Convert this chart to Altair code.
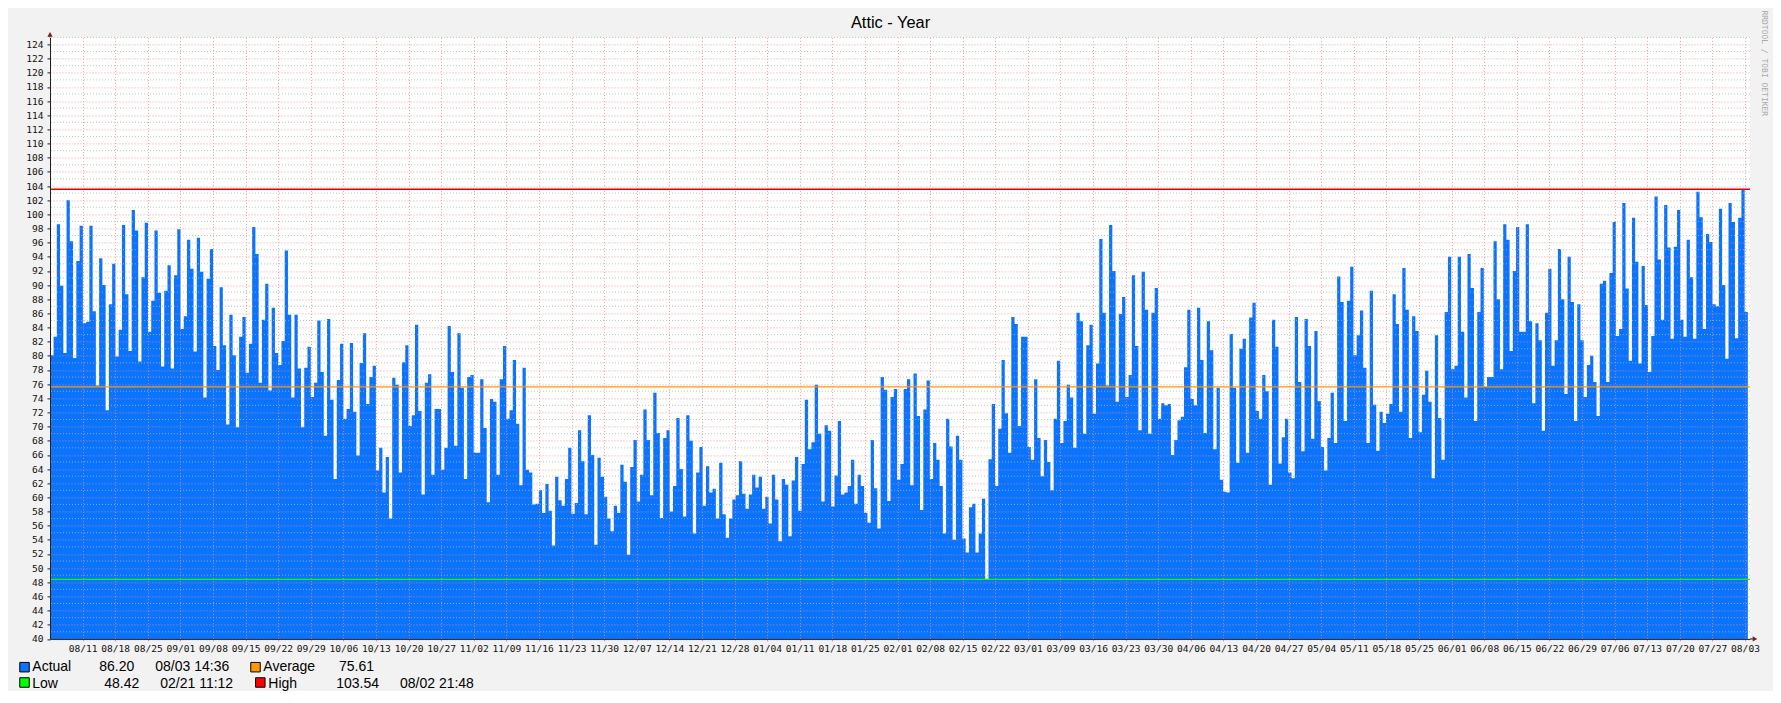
import json
import altair as alt
import pandas as pd

# ---------------- data ----------------
title_text = "Attic - Year"

x_labels = ["08/11", "08/18", "08/25", "09/01", "09/08", "09/15", "09/22", "09/29",
            "10/06", "10/13", "10/20", "10/27", "11/02", "11/09", "11/16", "11/23",
            "11/30", "12/07", "12/14", "12/21", "12/28", "01/04", "01/11", "01/18",
            "01/25", "02/01", "02/08", "02/15", "02/22", "03/01", "03/09", "03/16",
            "03/23", "03/30", "04/06", "04/13", "04/20", "04/27", "05/04", "05/11",
            "05/18", "05/25", "06/01", "06/08", "06/15", "06/22", "06/29", "07/06",
            "07/13", "07/20", "07/27", "08/03"]
# tick positions in days after 08/04 00:00 (weekly)
tick_days = [7 + 7 * k for k in range(len(x_labels))]
y_ticks = list(range(40, 125, 2))

# day boundaries (days after 08/04 00:00) of the stretches read below
seg_bounds = [0.06, 60.19, 122.47, 184.74, 247.02, 309.30, 364.61]

seg1 = [80.1, 82.7, 98.6, 89.9, 80.4, 102.0, 96.2, 79.7, 93.4, 98.4, 84.6, 84.8, 98.4, 86.3,
        75.8, 93.8, 90.0, 72.3, 87.3, 93.0, 79.9, 83.7, 98.5, 88.7, 80.7, 100.6, 97.7, 79.2,
        91.1, 98.8, 83.4, 87.8, 97.7, 88.9, 78.5, 89.2, 92.8, 78.2, 91.4, 97.9, 83.8, 85.6,
        96.4, 92.3, 80.6, 96.7, 91.9, 74.1, 90.9, 95.1, 81.4, 78.0, 89.7, 81.5, 70.3, 85.8,
        80.1, 69.9, 82.7, 85.5, 77.6, 81.7, 98.2, 94.4, 76.2, 85.1, 90.2, 75.1, 86.8, 80.4,
        78.7, 82.1, 94.9, 85.8, 74.1, 85.8, 78.2, 69.9, 78.3, 81.3, 74.2, 76.2, 85.0, 77.7,
        68.7, 85.2]
seg2 = [73.8, 62.6, 76.6, 81.7, 71.1, 72.5, 81.8, 72.1, 65.9, 79.0, 83.2, 73.2, 77.0, 78.6,
        63.8, 67.0, 60.7, 65.7, 57.0, 76.9, 75.9, 63.5, 79.1, 81.5, 70.1, 71.6, 84.4, 72.2,
        60.4, 76.2, 77.4, 63.2, 72.5, 72.5, 63.9, 67.0, 84.2, 77.7, 67.3, 83.2, 75.5, 62.6,
        77.0, 77.3, 66.3, 66.3, 76.7, 69.8, 59.3, 73.9, 73.5, 63.2, 76.7, 81.4, 71.1, 72.3,
        79.4, 70.4, 61.7, 78.3, 63.9, 63.5, 59.0, 59.1, 61.0, 57.8, 61.9, 58.1, 53.2, 62.9,
        59.6, 58.8, 62.6, 67.0, 57.7, 59.2, 69.5, 65.1, 57.6, 71.6, 66.0, 53.3, 65.6, 62.9,
        60.1, 57.0, 55.2, 58.8, 57.8]
seg3 = [64.6, 62.2, 51.9, 64.3, 68.1, 59.4, 63.2, 72.4, 68.1, 60.3, 74.8, 69.1, 57.1, 68.4,
        69.5, 58.0, 61.6, 71.2, 64.0, 57.3, 71.6, 68.0, 54.9, 63.5, 67.1, 58.8, 64.4, 60.7,
        61.2, 57.0, 64.9, 57.6, 54.3, 57.0, 59.7, 60.3, 65.1, 60.5, 58.4, 60.4, 63.2, 61.4,
        62.9, 58.4, 60.1, 56.3, 63.2, 59.7, 53.8, 62.6, 61.8, 54.5, 62.4, 65.7, 58.1, 64.7,
        73.8, 66.8, 67.8, 75.9, 69.0, 59.4, 70.2, 69.4, 58.7, 63.1, 70.8, 60.4, 60.7, 61.6,
        65.3, 59.1, 63.2, 61.6, 57.8, 56.4, 68.1, 61.3, 55.6, 77.0, 75.2, 59.5, 74.2, 75.3,
        62.5, 64.7, 75.3, 76.7]
seg4 = [61.7, 77.5, 71.5, 58.2, 72.4, 76.5, 62.6, 67.7, 65.3, 61.6, 54.9, 71.1, 67.2, 54.0,
        68.7, 65.3, 54.2, 52.2, 58.6, 59.1, 52.2, 54.9, 59.8, 48.42, 65.4, 73.2, 61.6, 69.7,
        79.4, 71.9, 66.3, 85.5, 84.5, 70.1, 82.7, 82.7, 67.1, 65.3, 76.7, 68.4, 63.0, 68.1,
        65.0, 61.0, 71.1, 79.3, 67.7, 70.8, 75.9, 74.1, 67.0, 86.1, 84.9, 69.0, 81.5, 84.4,
        71.8, 78.9, 96.5, 86.1, 75.8, 98.5, 92.0, 73.5, 85.9, 88.3, 74.2, 77.3, 91.4, 81.4,
        69.5, 91.9, 86.5, 69.0, 86.1, 89.6, 71.1, 73.3, 73.0, 73.2, 66.0, 68.1, 70.9, 71.4,
        78.4, 86.5, 73.9, 73.0, 86.8]
seg5 = [79.4, 69.1, 84.9, 80.8, 66.8, 75.5, 62.5, 60.8, 60.7, 83.1, 75.5, 64.9, 81.0, 82.4,
        66.3, 85.4, 87.5, 72.2, 71.1, 77.3, 75.0, 61.8, 85.1, 81.3, 64.8, 68.5, 71.1, 63.5,
        62.7, 85.5, 76.3, 66.5, 85.2, 81.4, 68.3, 83.5, 73.6, 67.1, 63.8, 68.4, 74.8, 67.7,
        91.2, 87.6, 70.8, 87.8, 92.6, 80.1, 82.9, 86.4, 78.3, 67.7, 89.2, 73.1, 66.6, 72.1,
        70.5, 71.8, 73.2, 88.7, 84.5, 72.1, 92.4, 86.5, 68.4, 85.6, 83.5, 69.2, 74.5, 77.9,
        73.5, 62.7, 82.9, 71.2, 65.3, 86.2, 94.0, 78.1, 78.6, 94.0, 83.4, 74.1, 94.4, 89.6,
        70.8, 86.2, 92.4, 75.6, 77.0]
seg6 = [77.0, 96.2, 88.0, 78.1, 98.6, 96.4, 80.7, 92.0, 98.2, 83.4, 83.4, 98.6, 84.9, 73.3,
        84.6, 82.2, 69.4, 86.1, 92.3, 78.6, 82.2, 95.1, 88.0, 74.6, 94.0, 87.6, 70.8, 87.3,
        82.2, 74.2, 78.7, 80.0, 76.3, 71.5, 90.2, 90.6, 76.3, 91.7, 98.9, 82.8, 83.8, 101.6,
        89.5, 79.3, 99.5, 93.3, 78.9, 92.7, 87.2, 77.7, 82.8, 102.5, 93.6, 85.1, 101.3, 95.3,
        82.4, 95.4, 100.6, 85.1, 82.7, 96.4, 91.1, 82.4, 103.2, 99.6, 83.8, 97.2, 96.1, 87.3,
        87.0, 100.8, 90.0, 79.6, 101.6, 98.9, 82.5, 99.5, 103.54, 86.2]
segments = [seg1, seg2, seg3, seg4, seg5, seg6]

legend_names = ["Actual", "Average", "Low", "High"]
legend_colors = ["#0A74FF", "#FF9900", "#00FF00", "#FF0000"]
actual_value, actual_time = "86.20", "08/03 14:36"
average_value = 75.61
low_value, low_time = 48.42, "02/21 11:12"
high_value, high_time = 103.54, "08/02 21:48"
watermark = "RRDTOOL / TOBI OETIKER"

# ---------------- table ----------------
rows = []
for seg, a, b in zip(segments, seg_bounds[:-1], seg_bounds[1:]):
    n = len(seg)
    for i, v in enumerate(seg):
        rows.append({"day": a + (b - a) * i / n, "temp": v})
rows.append({"day": seg_bounds[-1], "temp": segments[-1][-1]})
df = pd.DataFrame(rows)

W, H = 1700, 601.5
yscale = alt.Scale(domain=[40, 125], nice=False, zero=False)
xscale = alt.Scale(domain=[0, 365.07], nice=False, zero=False)
MONO = "DejaVu Sans Mono"
SANS = "Liberation Sans"
MGRID = "#E58A8A"
GRID = "#B5B5B5"

label_expr = json.dumps(x_labels) + "[round((datum.value - 7) / 7)]"

y_axis = alt.Axis(values=y_ticks, grid=True, gridColor=MGRID,
                  gridDash=[1, 2], gridWidth=1, gridOpacity=0.8, zindex=1,
                  domainColor="#1F1F1F", tickColor="#1F1F1F", tickSize=3,
                  labelFont=MONO, labelFontSize=9.6, labelColor="#111111",
                  labelPadding=4, labels=True)

area = alt.Chart(df).mark_area(interpolate="step-after", color=legend_colors[0], clip=True).encode(
    x=alt.X("day:Q", scale=xscale, title=None,
            axis=alt.Axis(values=tick_days, labelExpr=label_expr, grid=True, gridColor=MGRID,
                          gridDash=[1, 2], gridWidth=1, gridOpacity=0.8, zindex=1,
                          domainColor="#1F1F1F", tickColor=MGRID, tickSize=2,
                          labelFont=MONO, labelFontSize=9.6, labelColor="#111111",
                          labelPadding=3, labelAngle=0, labelOverlap=False, labelFlush=False)),
    y=alt.Y("temp:Q", scale=yscale, title=None, axis=y_axis),
    y2=alt.datum(40),
)

minor_vals = list(range(41, 126, 2))
minor = alt.Chart(pd.DataFrame({"temp": minor_vals})).mark_rule(
    color=GRID, strokeDash=[1, 2], strokeWidth=1, opacity=0.8).encode(
    y=alt.Y("temp:Q", scale=yscale, title=None, axis=y_axis))


def hline(v, color, w):
    return alt.Chart(pd.DataFrame({"temp": [v]})).mark_rule(color=color, strokeWidth=w).encode(
        y=alt.Y("temp:Q", scale=yscale, title=None, axis=y_axis))


high_line = hline(high_value, "#E00000", 1.6)
avg_line = hline(average_value, "#FF9900", 1.3)
low_line = hline(low_value, "#00FF00", 1.3)

one = pd.DataFrame({"s": [0]})
arrow_up = alt.Chart(one).mark_point(shape="triangle-up", filled=True, color="#801F1F",
                                     size=28, opacity=1).encode(x=alt.value(0), y=alt.value(-3))
arrow_right = alt.Chart(one).mark_point(shape="triangle-right", filled=True, color="#801F1F",
                                        size=28, opacity=1).encode(x=alt.value(W + 5), y=alt.value(H))
x_ext = alt.Chart(one).mark_rule(color="#1F1F1F").encode(
    x=alt.value(W), x2=alt.value(W + 4), y=alt.value(H))
y_ext = alt.Chart(one).mark_rule(color="#1F1F1F").encode(
    x=alt.value(0), y=alt.value(-2), y2=alt.value(0))


def txt(s, x, y, size=14, align="left", font=SANS, color="#000000", angle=0, baseline="alphabetic"):
    return alt.Chart(pd.DataFrame({"s": [s]})).mark_text(
        align=align, baseline=baseline, font=font, fontSize=size, color=color, angle=angle).encode(
        text="s:N", x=alt.value(x), y=alt.value(y))


def box(color, x, y):
    return alt.Chart(one).mark_square(size=90, filled=True, fill=color, stroke="#000000",
                                      strokeWidth=1, opacity=1).encode(x=alt.value(x), y=alt.value(y))


r1, r2 = 633.3, 651.1
b1, b2 = 629.8, 645.1
texts = [
    txt(title_text, 840.5, -9.1, size=16.4, align="center"),
    box(legend_colors[0], -25.5, b1), txt(legend_names[0], -17.7, r1),
    txt(actual_value, 84.3, r1, align="right"), txt(actual_time, 105.3, r1),
    box(legend_colors[1], 205.5, b1), txt(legend_names[1], 213.3, r1),
    txt(f"{average_value:.2f}", 324, r1, align="right"),
    box(legend_colors[2], -25.5, b2), txt(legend_names[2], -17.7, r2),
    txt(f"{low_value:.2f}", 89.3, r2, align="right"), txt(low_time, 110.3, r2),
    box(legend_colors[3], 210.3, b2), txt(legend_names[3], 218.3, r2),
    txt(f"{high_value:.2f}", 329, r2, align="right"), txt(high_time, 350, r2),
    txt(watermark, 1714, -27, size=8, font=MONO, color="#A8A8A8", angle=90, baseline="middle"),
]

chart = alt.layer(area, minor, avg_line, low_line, high_line, x_ext, y_ext,
                  arrow_up, arrow_right, *texts).properties(
    width=W, height=H,
    background="#F2F2F2",
    padding={"left": 42, "top": 29.4, "right": 23, "bottom": 52},
    autosize=alt.AutoSizeParams(type="none"),
).configure_view(strokeWidth=0, fill="#FFFFFF")

chart.save("out.html", embed_options={"renderer": "svg", "actions": False})
